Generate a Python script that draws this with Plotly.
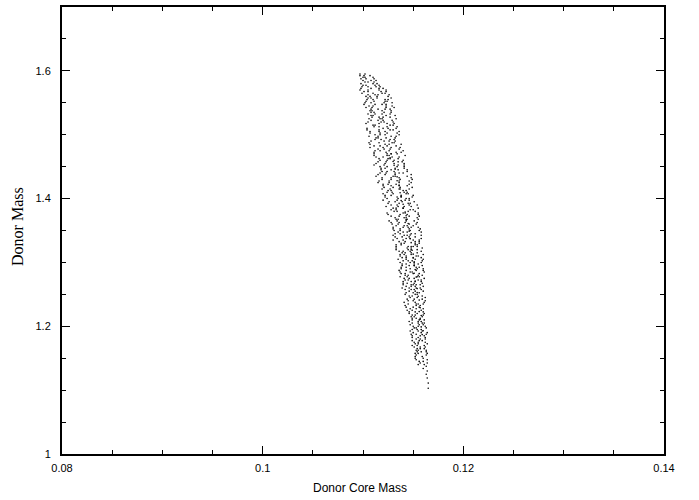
import plotly.graph_objects as go

# Each row: (donor mass, [donor core masses read at that donor mass])
upper_band = [
    (1.5950, [0.1097, 0.1102]),
    (1.5925, [0.1097, 0.1101, 0.1107]),
    (1.5900, [0.1100, 0.1102, 0.1110]),
    (1.5875, [0.1098, 0.1103, 0.1111]),
    (1.5850, [0.1100, 0.1108, 0.1113]),
    (1.5825, [0.1102, 0.1105, 0.1111]),
    (1.5800, [0.1098, 0.1110, 0.1114]),
    (1.5775, [0.1100, 0.1103, 0.1112, 0.1116]),
    (1.5750, [0.1099, 0.1105, 0.1113, 0.1117]),
    (1.5725, [0.1098, 0.1108, 0.1116, 0.1120]),
    (1.5700, [0.1097, 0.1105, 0.1116, 0.1123]),
    (1.5675, [0.1101, 0.1105, 0.1118, 0.1123]),
    (1.5650, [0.1099, 0.1110, 0.1119, 0.1122]),
    (1.5625, [0.1105, 0.1112, 0.1115, 0.1126]),
    (1.5600, [0.1103, 0.1107, 0.1114, 0.1125]),
    (1.5575, [0.1105, 0.1108, 0.1114, 0.1128]),
    (1.5550, [0.1104, 0.1110, 0.1122, 0.1125]),
    (1.5525, [0.1103, 0.1111, 0.1122, 0.1124]),
    (1.5500, [0.1102, 0.1108, 0.1121, 0.1129]),
    (1.5475, [0.1101, 0.1112, 0.1119, 0.1123]),
    (1.5450, [0.1106, 0.1110, 0.1123, 0.1129]),
    (1.5425, [0.1103, 0.1109, 0.1123, 0.1131]),
    (1.5400, [0.1108, 0.1115, 0.1122, 0.1127]),
    (1.5375, [0.1107, 0.1109, 0.1119, 0.1128]),
    (1.5350, [0.1108, 0.1111, 0.1121, 0.1128]),
    (1.5325, [0.1105, 0.1112, 0.1119, 0.1127]),
    (1.5300, [0.1108, 0.1110, 0.1123, 0.1132]),
    (1.5275, [0.1109, 0.1116, 0.1120, 0.1127]),
    (1.5250, [0.1106, 0.1117, 0.1119, 0.1133]),
    (1.5225, [0.1108, 0.1115, 0.1120, 0.1129]),
    (1.5200, [0.1105, 0.1118, 0.1121, 0.1130]),
    (1.5175, [0.1103, 0.1116, 0.1124, 0.1131]),
    (1.5150, [0.1110, 0.1112, 0.1127, 0.1130]),
    (1.5125, [0.1111, 0.1116, 0.1124, 0.1134]),
    (1.5100, [0.1104, 0.1120, 0.1125, 0.1133]),
    (1.5075, [0.1104, 0.1116, 0.1127, 0.1130]),
    (1.5050, [0.1107, 0.1116, 0.1122, 0.1136]),
    (1.5025, [0.1107, 0.1117, 0.1124, 0.1134]),
    (1.5000, [0.1112, 0.1117, 0.1122, 0.1136]),
    (1.4975, [0.1106, 0.1115, 0.1128, 0.1133]),
    (1.4950, [0.1113, 0.1115, 0.1123, 0.1132]),
    (1.4925, [0.1112, 0.1118, 0.1127, 0.1131]),
    (1.4900, [0.1108, 0.1121, 0.1126, 0.1132]),
    (1.4875, [0.1106, 0.1116, 0.1129, 0.1131]),
    (1.4850, [0.1107, 0.1122, 0.1126, 0.1138]),
    (1.4825, [0.1111, 0.1117, 0.1124, 0.1133]),
    (1.4800, [0.1107, 0.1120, 0.1128, 0.1137]),
    (1.4775, [0.1115, 0.1121, 0.1127, 0.1136]),
    (1.4750, [0.1112, 0.1117, 0.1126, 0.1140]),
    (1.4725, [0.1111, 0.1123, 0.1133, 0.1138]),
    (1.4700, [0.1111, 0.1124, 0.1128, 0.1134]),
    (1.4675, [0.1111, 0.1124, 0.1126, 0.1142]),
    (1.4650, [0.1113, 0.1120, 0.1129, 0.1136]),
    (1.4625, [0.1116, 0.1125, 0.1127, 0.1135]),
    (1.4600, [0.1117, 0.1124, 0.1131, 0.1140]),
    (1.4575, [0.1115, 0.1123, 0.1135, 0.1139]),
    (1.4550, [0.1113, 0.1122, 0.1131, 0.1141]),
    (1.4525, [0.1111, 0.1121, 0.1135, 0.1141]),
]

middle_band = [
    (1.4500, [0.1117, 0.1124, 0.1134, 0.1141]),
    (1.4475, [0.1118, 0.1122, 0.1132, 0.1141]),
    (1.4450, [0.1118, 0.1128, 0.1135, 0.1144]),
    (1.4425, [0.1119, 0.1124, 0.1131, 0.1144]),
    (1.4400, [0.1117, 0.1123, 0.1136, 0.1140]),
    (1.4375, [0.1115, 0.1122, 0.1132, 0.1148]),
    (1.4350, [0.1113, 0.1130, 0.1132, 0.1144]),
    (1.4325, [0.1119, 0.1128, 0.1136, 0.1148]),
    (1.4300, [0.1119, 0.1128, 0.1137, 0.1149]),
    (1.4275, [0.1116, 0.1126, 0.1136, 0.1146]),
    (1.4250, [0.1115, 0.1126, 0.1136, 0.1148]),
    (1.4225, [0.1120, 0.1125, 0.1133, 0.1146]),
    (1.4200, [0.1120, 0.1128, 0.1136, 0.1144]),
    (1.4175, [0.1121, 0.1130, 0.1137, 0.1149]),
    (1.4150, [0.1119, 0.1127, 0.1137, 0.1146]),
    (1.4125, [0.1125, 0.1128, 0.1140, 0.1143]),
    (1.4100, [0.1124, 0.1129, 0.1141, 0.1144]),
    (1.4075, [0.1120, 0.1130, 0.1143, 0.1145]),
    (1.4050, [0.1122, 0.1128, 0.1138, 0.1150]),
    (1.4025, [0.1122, 0.1134, 0.1138, 0.1149]),
    (1.4000, [0.1124, 0.1135, 0.1143, 0.1146]),
    (1.3975, [0.1120, 0.1134, 0.1142, 0.1146]),
    (1.3950, [0.1126, 0.1132, 0.1139, 0.1151]),
    (1.3925, [0.1125, 0.1136, 0.1145, 0.1147]),
    (1.3900, [0.1128, 0.1134, 0.1146, 0.1154]),
    (1.3875, [0.1123, 0.1135, 0.1141, 0.1148]),
    (1.3850, [0.1130, 0.1133, 0.1140, 0.1155]),
    (1.3825, [0.1128, 0.1133, 0.1147, 0.1150]),
    (1.3800, [0.1131, 0.1134, 0.1145, 0.1152]),
    (1.3775, [0.1124, 0.1140, 0.1142, 0.1155]),
    (1.3750, [0.1125, 0.1137, 0.1144, 0.1155]),
    (1.3725, [0.1128, 0.1136, 0.1146, 0.1156]),
    (1.3700, [0.1132, 0.1141, 0.1143, 0.1154]),
    (1.3675, [0.1133, 0.1135, 0.1144, 0.1155]),
    (1.3650, [0.1126, 0.1134, 0.1143, 0.1151]),
    (1.3625, [0.1128, 0.1136, 0.1142, 0.1154]),
    (1.3600, [0.1129, 0.1135, 0.1146, 0.1153]),
    (1.3575, [0.1133, 0.1141, 0.1144, 0.1150]),
    (1.3550, [0.1130, 0.1140, 0.1148, 0.1155]),
    (1.3525, [0.1130, 0.1137, 0.1146, 0.1157]),
    (1.3500, [0.1131, 0.1137, 0.1147, 0.1156]),
    (1.3475, [0.1135, 0.1140, 0.1144, 0.1158]),
    (1.3450, [0.1132, 0.1137, 0.1148, 0.1152]),
    (1.3425, [0.1130, 0.1141, 0.1144, 0.1158]),
    (1.3400, [0.1132, 0.1139, 0.1146, 0.1152]),
    (1.3375, [0.1134, 0.1143, 0.1147, 0.1158]),
    (1.3350, [0.1130, 0.1140, 0.1150, 0.1156]),
    (1.3325, [0.1136, 0.1142, 0.1152, 0.1156]),
    (1.3300, [0.1138, 0.1141, 0.1152, 0.1156]),
    (1.3275, [0.1133, 0.1138, 0.1152, 0.1154]),
    (1.3250, [0.1133, 0.1145, 0.1150, 0.1154]),
    (1.3225, [0.1133, 0.1144, 0.1148, 0.1159]),
    (1.3200, [0.1133, 0.1145, 0.1148, 0.1154]),
    (1.3175, [0.1136, 0.1140, 0.1147, 0.1158]),
    (1.3150, [0.1139, 0.1142, 0.1148, 0.1154]),
    (1.3125, [0.1137, 0.1141, 0.1148, 0.1160]),
    (1.3100, [0.1137, 0.1143, 0.1153, 0.1155]),
    (1.3075, [0.1139, 0.1143, 0.1150, 0.1158]),
    (1.3050, [0.1135, 0.1143, 0.1152, 0.1160]),
    (1.3025, [0.1140, 0.1145, 0.1149, 0.1159]),
    (1.3000, [0.1137, 0.1147, 0.1151, 0.1158]),
]

lower_band = [
    (1.2975, [0.1139, 0.1143, 0.1151, 0.1155]),
    (1.2950, [0.1139, 0.1146, 0.1151, 0.1159]),
    (1.2925, [0.1138, 0.1143, 0.1153, 0.1156]),
    (1.2900, [0.1138, 0.1147, 0.1154, 0.1160]),
    (1.2875, [0.1136, 0.1143, 0.1153, 0.1160]),
    (1.2850, [0.1137, 0.1147, 0.1149, 0.1161]),
    (1.2825, [0.1138, 0.1142, 0.1150, 0.1156]),
    (1.2800, [0.1142, 0.1145, 0.1155, 0.1159]),
    (1.2775, [0.1137, 0.1144, 0.1154, 0.1156]),
    (1.2750, [0.1141, 0.1146, 0.1151, 0.1161]),
    (1.2725, [0.1142, 0.1145, 0.1155, 0.1158]),
    (1.2700, [0.1140, 0.1148, 0.1152, 0.1158]),
    (1.2675, [0.1140, 0.1144, 0.1151, 0.1159]),
    (1.2650, [0.1140, 0.1148, 0.1150, 0.1157]),
    (1.2625, [0.1143, 0.1148, 0.1152, 0.1160]),
    (1.2600, [0.1139, 0.1146, 0.1153, 0.1157]),
    (1.2575, [0.1142, 0.1148, 0.1151, 0.1158]),
    (1.2550, [0.1146, 0.1152, 0.1160]),
    (1.2525, [0.1143, 0.1150, 0.1156]),
    (1.2500, [0.1142, 0.1152, 0.1154]),
    (1.2475, [0.1146, 0.1149, 0.1159]),
    (1.2450, [0.1147, 0.1154, 0.1162]),
    (1.2425, [0.1144, 0.1151, 0.1159]),
    (1.2400, [0.1145, 0.1150, 0.1162]),
    (1.2375, [0.1141, 0.1152, 0.1161]),
    (1.2350, [0.1145, 0.1153, 0.1160]),
    (1.2325, [0.1142, 0.1153, 0.1157]),
    (1.2300, [0.1143, 0.1150, 0.1156]),
    (1.2275, [0.1147, 0.1153, 0.1160]),
    (1.2250, [0.1144, 0.1149, 0.1158]),
    (1.2225, [0.1146, 0.1152, 0.1160]),
    (1.2200, [0.1146, 0.1154, 0.1161]),
    (1.2175, [0.1149, 0.1152, 0.1160]),
    (1.2150, [0.1148, 0.1151, 0.1159]),
    (1.2125, [0.1149, 0.1153, 0.1157]),
    (1.2100, [0.1149, 0.1156, 0.1161]),
    (1.2075, [0.1146, 0.1155, 0.1158]),
    (1.2050, [0.1149, 0.1155, 0.1161]),
    (1.2025, [0.1147, 0.1156, 0.1160]),
    (1.2000, [0.1150, 0.1155, 0.1162]),
    (1.1975, [0.1151, 0.1153, 0.1163]),
    (1.1950, [0.1149, 0.1154, 0.1158]),
    (1.1925, [0.1147, 0.1155, 0.1159]),
    (1.1900, [0.1150, 0.1158, 0.1164]),
    (1.1875, [0.1148, 0.1153, 0.1163]),
    (1.1850, [0.1149, 0.1157, 0.1161]),
    (1.1825, [0.1149, 0.1155, 0.1162]),
    (1.1800, [0.1153, 0.1157, 0.1162]),
    (1.1775, [0.1149, 0.1156, 0.1159]),
    (1.1750, [0.1151, 0.1155, 0.1162]),
    (1.1725, [0.1152, 0.1155, 0.1164]),
    (1.1700, [0.1149, 0.1154, 0.1161]),
    (1.1675, [0.1151, 0.1157, 0.1162]),
    (1.1650, [0.1154, 0.1157, 0.1161]),
    (1.1625, [0.1153, 0.1155, 0.1163]),
    (1.1600, [0.1154, 0.1158, 0.1163]),
    (1.1575, [0.1152, 0.1155, 0.1164]),
    (1.1550, [0.1153, 0.1163]),
    (1.1525, [0.1152, 0.1159]),
    (1.1500, [0.1152, 0.1160]),
    (1.1475, [0.1153, 0.1164]),
    (1.1450, [0.1156, 0.1160]),
    (1.1425, [0.1157, 0.1164]),
    (1.1400, [0.1155, 0.1161]),
]

# denser streak running down the inside of the band
spine = [
    (1.470, [0.1128]), (1.464, [0.1127]), (1.458, [0.1130]), (1.452, [0.1131]),
    (1.446, [0.1132]), (1.440, [0.1132]), (1.434, [0.1134]), (1.428, [0.1134]),
    (1.421, [0.1136]), (1.415, [0.1136]), (1.409, [0.1137]), (1.403, [0.1138]),
    (1.397, [0.1138]), (1.391, [0.1140]), (1.385, [0.1140]), (1.379, [0.1142]),
    (1.373, [0.1143]), (1.367, [0.1143]), (1.361, [0.1145]), (1.355, [0.1145]),
    (1.349, [0.1146]), (1.343, [0.1147]), (1.337, [0.1147]), (1.331, [0.1148]),
    (1.325, [0.1148]), (1.319, [0.1149]), (1.313, [0.1150]), (1.307, [0.1150]),
    (1.301, [0.1151]), (1.295, [0.1151]), (1.289, [0.1152]), (1.283, [0.1151]),
    (1.277, [0.1153]), (1.271, [0.1152]), (1.265, [0.1153]), (1.259, [0.1154]),
    (1.253, [0.1154]), (1.247, [0.1155]), (1.241, [0.1156]), (1.235, [0.1155]),
    (1.229, [0.1157]), (1.223, [0.1156]), (1.217, [0.1158]), (1.211, [0.1157]),
    (1.205, [0.1159]), (1.199, [0.1158]), (1.193, [0.1160]), (1.187, [0.1159]),
]

tail = [
    (1.1375, [0.1163]),
    (1.1340, [0.1160]),
    (1.1300, [0.1164]),
    (1.1250, [0.1163]),
    (1.1190, [0.1164]),
    (1.1110, [0.1165]),
    (1.1030, [0.1165]),
]

x_tick_vals = [0.08, 0.10, 0.12, 0.14]
x_tick_text = ["0.08", "0.1", "0.12", "0.14"]
y_tick_vals = [1.0, 1.2, 1.4, 1.6]
y_tick_text = ["1", "1.2", "1.4", "1.6"]

core_mass = []
donor_mass = []
for segment in (upper_band, middle_band, lower_band, spine, tail):
    for m, cores in segment:
        for c in cores:
            core_mass.append(c)
            donor_mass.append(m)

fig = go.Figure()
fig.add_trace(go.Scatter(
    x=core_mass, y=donor_mass, mode="markers",
    marker=dict(size=1.6, color="#000000", symbol="circle", line=dict(width=0)),
    showlegend=False, hoverinfo="skip",
))

tick_font = dict(family="Liberation Sans, Arial, sans-serif", size=11, color="black")

fig.update_layout(
    width=699, height=500,
    margin=dict(l=62, r=35, t=5, b=46),
    paper_bgcolor="white", plot_bgcolor="white",
    showlegend=False,
    annotations=[
        dict(text="Donor Core Mass", xref="paper", yref="paper", x=0.495, y=-0.077,
             xanchor="center", yanchor="middle", showarrow=False,
             font=dict(family="Liberation Sans, Arial, sans-serif", size=12, color="black")),
        dict(text="Donor Mass", xref="paper", yref="paper", x=-0.073, y=0.508,
             xanchor="center", yanchor="middle", showarrow=False, textangle=-90,
             font=dict(family="Liberation Serif, Times New Roman, serif", size=16, color="black")),
    ],
)
fig.update_xaxes(
    range=[0.08, 0.14], tickmode="array", tickvals=x_tick_vals, ticktext=x_tick_text,
    ticks="inside", ticklen=8, tickwidth=1, tickcolor="black",
    minor=dict(dtick=0.005, tick0=0.08, ticks="inside", ticklen=4, tickwidth=1, tickcolor="black", showgrid=False),
    showline=True, linecolor="black", linewidth=2, mirror="ticks",
    showgrid=False, zeroline=False, tickfont=tick_font, ticklabelstandoff=3,
)
fig.update_yaxes(
    range=[1.0, 1.7], tickmode="array", tickvals=y_tick_vals, ticktext=y_tick_text,
    ticks="inside", ticklen=8, tickwidth=1, tickcolor="black",
    minor=dict(dtick=0.05, tick0=1.0, ticks="inside", ticklen=4, tickwidth=1, tickcolor="black", showgrid=False),
    showline=True, linecolor="black", linewidth=2, mirror="ticks",
    showgrid=False, zeroline=False, tickfont=tick_font, ticklabelstandoff=7,
)

fig.write_html("out.html")
